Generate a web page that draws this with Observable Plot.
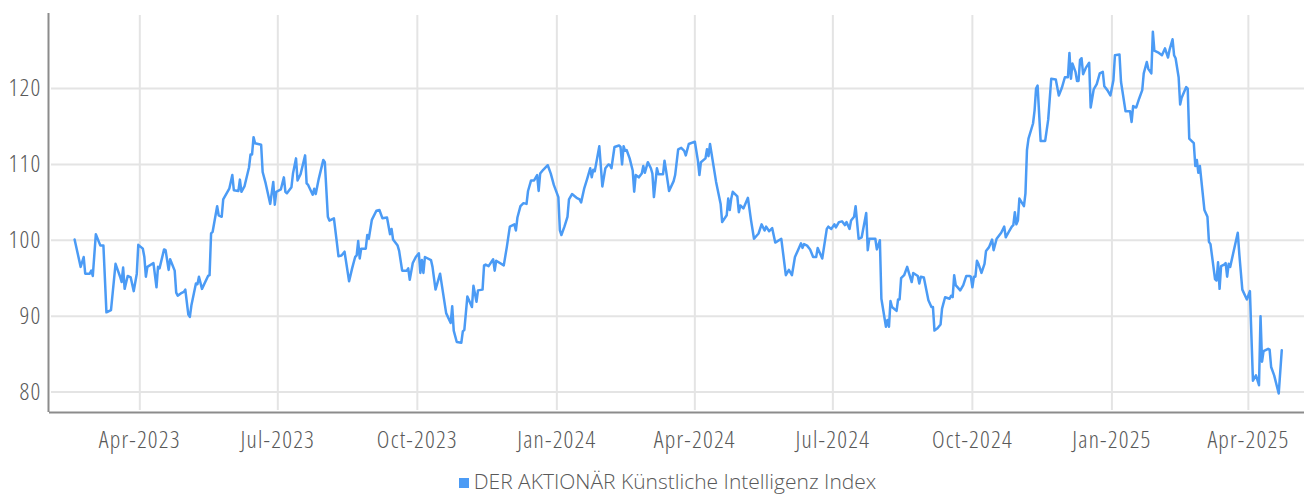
<!DOCTYPE html>
<html>
<head>
<meta charset="utf-8">
<script src="https://cdn.jsdelivr.net/npm/d3@7"></script>
<script src="https://cdn.jsdelivr.net/npm/@observablehq/plot@0.6"></script>
<style>
  html, body { margin: 0; padding: 0; background: #ffffff; overflow: hidden; }
  #chart { width: 1304px; height: 460px; }
  .legend { height: 35px; box-sizing: border-box; padding-top: 11.35px; padding-left: 31px; display: flex; justify-content: center; align-items: flex-start;
    font-family: "Open Sans", "DejaVu Sans Condensed", sans-serif; font-stretch: 100%; font-weight: 300; font-size: 21px;
    color: #595959; line-height: 21px; }
  .legend .lab { height: 21px; white-space: nowrap; }
  .sw { width: 10px; height: 10px; background: #4b9bf5; margin-right: 5px; margin-top: 7px; flex: none; }
</style>
</head>
<body>
<div id="chart"></div>
<div class="legend"><span class="sw"></span><span class="lab" id="legendLabel"></span></div>
<script>
const seriesName = "DER AKTIONÄR Künstliche Intelligenz Index";
const yTicks = [80, 90, 100, 110, 120];
const xTickDates = ["2023-04-01","2023-07-01","2023-10-01","2024-01-01","2024-04-01","2024-07-01","2024-10-01","2025-01-01","2025-04-01"];

const dates = [
"2023-02-17","2023-02-21","2023-02-23","2023-02-24","2023-02-27","2023-02-28","2023-03-01","2023-03-03","2023-03-06","2023-03-08",
"2023-03-10","2023-03-13","2023-03-16","2023-03-19","2023-03-20","2023-03-21","2023-03-22","2023-03-24","2023-03-26","2023-03-28",
"2023-03-30","2023-03-31","2023-04-03","2023-04-04","2023-04-05","2023-04-06","2023-04-10","2023-04-12","2023-04-13","2023-04-14",
"2023-04-17","2023-04-18","2023-04-20","2023-04-21","2023-04-24","2023-04-25","2023-04-26","2023-04-28","2023-04-30","2023-05-01",
"2023-05-03","2023-05-04","2023-05-05","2023-05-08","2023-05-09","2023-05-10","2023-05-12","2023-05-16","2023-05-17","2023-05-18",
"2023-05-19","2023-05-22","2023-05-23","2023-05-25","2023-05-26","2023-05-30","2023-06-01","2023-06-02","2023-06-05","2023-06-06",
"2023-06-07","2023-06-09","2023-06-12","2023-06-13","2023-06-14","2023-06-15","2023-06-16","2023-06-20","2023-06-21","2023-06-23",
"2023-06-26","2023-06-28","2023-06-29","2023-06-30","2023-07-03","2023-07-05","2023-07-06","2023-07-07","2023-07-10","2023-07-11",
"2023-07-13","2023-07-14","2023-07-16","2023-07-19","2023-07-20","2023-07-21","2023-07-24","2023-07-25","2023-07-26","2023-07-28",
"2023-07-31","2023-08-01","2023-08-03","2023-08-04","2023-08-07","2023-08-09","2023-08-10","2023-08-12","2023-08-14","2023-08-17",
"2023-08-19","2023-08-21","2023-08-22","2023-08-23","2023-08-24","2023-08-25","2023-08-28","2023-08-29","2023-08-30","2023-09-01",
"2023-09-04","2023-09-06","2023-09-08","2023-09-11","2023-09-13","2023-09-14","2023-09-15","2023-09-18","2023-09-19","2023-09-21",
"2023-09-24","2023-09-25","2023-09-26","2023-09-28","2023-09-30","2023-10-02","2023-10-03","2023-10-04","2023-10-05","2023-10-06",
"2023-10-10","2023-10-11","2023-10-13","2023-10-16","2023-10-18","2023-10-20","2023-10-23","2023-10-24","2023-10-25","2023-10-27",
"2023-10-30","2023-10-31","2023-11-01","2023-11-03","2023-11-06","2023-11-07","2023-11-09","2023-11-10","2023-11-13","2023-11-14",
"2023-11-15","2023-11-17","2023-11-20","2023-11-21","2023-11-22","2023-11-27","2023-11-29","2023-12-01","2023-12-04","2023-12-05",
"2023-12-06","2023-12-08","2023-12-10","2023-12-12","2023-12-13","2023-12-15","2023-12-17","2023-12-19","2023-12-20","2023-12-21",
"2023-12-23","2023-12-26","2023-12-28","2023-12-30","2024-01-02","2024-01-03","2024-01-04","2024-01-06","2024-01-08","2024-01-09",
"2024-01-11","2024-01-14","2024-01-16","2024-01-17","2024-01-19","2024-01-21","2024-01-23","2024-01-24","2024-01-25","2024-01-26",
"2024-01-29","2024-01-31","2024-02-02","2024-02-04","2024-02-05","2024-02-06","2024-02-08","2024-02-11","2024-02-12","2024-02-13",
"2024-02-14","2024-02-15","2024-02-16","2024-02-18","2024-02-20","2024-02-21","2024-02-22","2024-02-24","2024-02-26","2024-02-27",
"2024-02-28","2024-03-01","2024-03-03","2024-03-04","2024-03-05","2024-03-07","2024-03-08","2024-03-11","2024-03-12","2024-03-13",
"2024-03-15","2024-03-18","2024-03-19","2024-03-21","2024-03-23","2024-03-25","2024-03-26","2024-03-28","2024-04-01","2024-04-03",
"2024-04-04","2024-04-05","2024-04-08","2024-04-09","2024-04-10","2024-04-11","2024-04-15","2024-04-18","2024-04-19","2024-04-22",
"2024-04-23","2024-04-24","2024-04-25","2024-04-26","2024-04-29","2024-04-30","2024-05-01","2024-05-03","2024-05-06","2024-05-08",
"2024-05-10","2024-05-13","2024-05-15","2024-05-17","2024-05-18","2024-05-20","2024-05-22","2024-05-24","2024-05-28","2024-05-31",
"2024-06-02","2024-06-04","2024-06-06","2024-06-08","2024-06-10","2024-06-11","2024-06-12","2024-06-14","2024-06-16","2024-06-18",
"2024-06-20","2024-06-21","2024-06-24","2024-06-27","2024-06-28","2024-06-30","2024-07-02","2024-07-03","2024-07-05","2024-07-07",
"2024-07-09","2024-07-10","2024-07-12","2024-07-13","2024-07-15","2024-07-16","2024-07-18","2024-07-20","2024-07-23","2024-07-24",
"2024-07-25","2024-07-29","2024-07-30","2024-08-01","2024-08-02","2024-08-05","2024-08-06","2024-08-07","2024-08-08","2024-08-09",
"2024-08-12","2024-08-13","2024-08-14","2024-08-15","2024-08-17","2024-08-19","2024-08-20","2024-08-22","2024-08-23","2024-08-26",
"2024-08-27","2024-08-28","2024-08-30","2024-09-02","2024-09-04","2024-09-05","2024-09-06","2024-09-08","2024-09-10","2024-09-11",
"2024-09-13","2024-09-16","2024-09-17","2024-09-18","2024-09-19","2024-09-20","2024-09-23","2024-09-25","2024-09-27","2024-09-29",
"2024-09-30","2024-10-01","2024-10-02","2024-10-03","2024-10-04","2024-10-05","2024-10-07","2024-10-09","2024-10-10","2024-10-12",
"2024-10-14","2024-10-15","2024-10-17","2024-10-20","2024-10-22","2024-10-23","2024-10-25","2024-10-27","2024-10-28","2024-10-29",
"2024-10-30","2024-10-31","2024-11-01","2024-11-04","2024-11-05","2024-11-06","2024-11-07","2024-11-10","2024-11-11","2024-11-12",
"2024-11-13","2024-11-15","2024-11-18","2024-11-20","2024-11-22","2024-11-25","2024-11-27","2024-11-29","2024-12-01","2024-12-03",
"2024-12-04","2024-12-05","2024-12-06","2024-12-08","2024-12-09","2024-12-10","2024-12-11","2024-12-12","2024-12-13","2024-12-15",
"2024-12-17","2024-12-18","2024-12-20","2024-12-22","2024-12-24","2024-12-26","2024-12-27","2024-12-29","2024-12-31","2025-01-02",
"2025-01-03","2025-01-06","2025-01-07","2025-01-10","2025-01-13","2025-01-14","2025-01-15","2025-01-17","2025-01-19","2025-01-21",
"2025-01-22","2025-01-24","2025-01-25","2025-01-27","2025-01-28","2025-01-29","2025-02-01","2025-02-03","2025-02-05","2025-02-07",
"2025-02-08","2025-02-10","2025-02-11","2025-02-12","2025-02-14","2025-02-15","2025-02-16","2025-02-19","2025-02-20","2025-02-21",
"2025-02-24","2025-02-25","2025-02-26","2025-02-27","2025-02-28","2025-03-03","2025-03-05","2025-03-06","2025-03-07","2025-03-10",
"2025-03-11","2025-03-12","2025-03-13","2025-03-14","2025-03-16","2025-03-17","2025-03-18","2025-03-19","2025-03-20","2025-03-25",
"2025-03-26","2025-03-28","2025-03-31","2025-04-02","2025-04-04","2025-04-06","2025-04-08","2025-04-09","2025-04-10","2025-04-11",
"2025-04-14","2025-04-15","2025-04-16","2025-04-18","2025-04-21","2025-04-23"
];

const values = [
100.1,96.5,97.8,95.6,95.6,96.0,95.3,100.8,99.3,99.3,
90.5,90.8,96.9,95.2,94.5,96.4,93.6,95.3,95.1,93.3,
95.6,99.4,98.9,97.8,95.2,96.5,97.0,93.8,96.5,96.3,
98.8,98.7,96.1,97.5,96.0,93.1,92.7,93.0,93.2,93.5,
90.2,89.9,91.4,94.3,94.2,95.2,93.6,95.3,95.4,100.9,
101.1,104.5,103.3,103.1,105.4,106.8,108.6,106.6,106.5,108.0,
106.4,107.1,109.6,111.3,111.3,113.6,112.8,112.6,109.0,107.5,
104.8,107.7,104.7,106.4,106.7,108.3,106.4,106.2,107.0,108.8,
110.8,107.9,108.7,111.2,107.5,107.3,106.0,106.8,106.1,108.1,
110.6,110.3,103.1,102.6,102.9,99.6,97.9,98.0,98.5,94.6,
96.3,97.8,98.0,99.9,97.6,98.9,98.9,100.7,100.2,102.7,
103.9,104.0,102.9,103.0,100.8,101.5,100.1,99.3,98.6,96.0,
96.0,96.3,94.8,97.0,97.8,98.3,95.7,97.4,95.7,97.8,
97.4,96.5,93.5,95.6,93.0,90.4,89.1,91.3,88.1,86.6,
86.5,88.0,88.2,92.6,91.2,94.0,91.9,93.4,93.5,96.7,
96.8,96.6,97.5,96.0,97.3,96.7,99.1,101.8,102.1,101.3,
103.0,104.5,104.9,104.8,106.5,107.9,107.9,108.6,106.5,108.8,
109.3,109.9,108.8,107.3,105.7,101.3,100.7,101.8,103.1,105.4,
106.1,105.6,105.4,105.0,106.8,108.1,109.5,108.3,109.3,109.1,
112.4,107.1,109.5,110.0,109.9,109.5,112.3,112.5,112.3,110.0,
112.4,111.8,111.9,110.8,109.2,106.4,108.6,108.3,108.8,109.8,
108.9,110.3,109.5,108.8,105.7,109.5,108.7,108.7,110.5,109.2,
106.5,107.8,108.6,112.0,112.2,111.8,111.2,112.7,113.0,110.5,
108.6,110.3,110.8,112.0,111.1,112.7,107.7,104.8,102.4,103.3,
105.5,104.0,105.5,106.4,105.8,103.7,104.6,104.2,105.6,102.7,
100.2,100.9,102.1,101.3,101.8,101.2,101.6,99.7,100.2,95.4,
96.1,95.4,97.8,98.7,99.6,99.0,99.5,99.3,98.8,97.8,
97.8,99.0,97.6,101.5,101.8,101.5,102.1,101.7,102.4,102.5,
102.0,102.4,101.5,102.6,103.1,104.5,100.2,100.4,103.6,98.7,
100.2,100.2,98.8,100.0,92.3,88.6,89.5,88.6,92.0,91.2,
90.7,92.2,92.2,95.0,95.4,96.5,95.8,94.5,95.7,95.3,
94.3,95.2,95.1,92.1,91.2,91.2,88.1,88.4,88.9,91.0,
92.5,92.3,92.7,92.5,95.4,94.1,93.4,94.1,95.3,95.3,
95.2,93.8,95.2,95.2,97.3,96.9,95.7,96.9,98.6,99.1,
100.1,98.7,100.2,101.0,101.8,100.4,101.1,101.8,102.0,103.7,
102.1,102.6,105.5,104.5,106.2,111.9,113.4,115.4,117.1,120.0,
120.4,113.1,113.1,115.9,121.3,121.2,119.1,120.1,121.5,121.5,
124.7,121.3,123.3,122.2,121.0,121.0,123.8,124.0,121.9,122.8,
123.4,117.5,119.9,120.6,122.0,122.2,120.3,119.8,119.1,121.1,
124.4,124.5,120.9,117.0,117.0,115.6,117.7,117.5,118.7,119.8,
122.0,123.5,122.6,122.0,127.5,125.0,124.7,124.4,125.3,124.1,
125.1,126.5,124.4,124.0,121.5,117.9,118.8,120.2,120.0,113.4,
112.8,109.8,110.6,108.9,109.8,104.0,103.1,99.8,99.5,94.9,
94.7,97.1,93.6,96.6,96.8,97.0,95.2,96.9,96.5,101.0,
98.2,93.5,92.2,93.3,81.5,82.2,80.9,90.0,84.0,85.4,
85.7,85.6,83.3,82.2,79.8,85.5
];

const parse = d3.utcParse("%Y-%m-%d");
const data = dates.map((d, i) => ({ date: parse(d), value: values[i] }));
const xTicks = xTickDates.map(parse);
const xDomain = [new Date(Date.UTC(2023, 0, 30, 19)), new Date(Date.UTC(2025, 4, 8))];
const yDomain = [77.3, 129.9];

const fontStack = '"Open Sans", "DejaVu Sans Condensed", sans-serif';

const chart = Plot.plot({
  width: 1304,
  height: 460,
  marginLeft: 48,
  marginRight: 0,
  marginTop: 13,
  marginBottom: 48,
  style: { fontFamily: fontStack, fontSize: "24px", fontWeight: 300, fontStretch: "75%", letterSpacing: "1.2px", color: "#595959", background: "#ffffff", overflow: "visible" },
  x: { type: "utc", domain: xDomain },
  y: { domain: yDomain },
  marks: [
    Plot.gridY(yTicks, { stroke: "#e4e4e4", strokeOpacity: 1, strokeWidth: 2, insetLeft: 3 }),
    Plot.gridX(xTicks, { stroke: "#e4e4e4", strokeOpacity: 1, strokeWidth: 2, insetTop: 2, insetBottom: 2 }),
    Plot.ruleX([xDomain[0]], { stroke: "#8c8c8c", strokeWidth: 2 }),
    Plot.ruleY([yDomain[0]], { stroke: "#8c8c8c", strokeWidth: 2, insetLeft: 1 }),
    Plot.axisY(yTicks, { tickSize: 0, tickPadding: 7, label: null }),
    Plot.axisX(xTicks, { tickSize: 0, tickPadding: 18, label: null, tickFormat: d3.utcFormat("%b-%Y") }),
    Plot.lineY(data, { x: "date", y: "value", stroke: "#4b9bf5", strokeWidth: 2.5, strokeLinejoin: "round" })
  ]
});
document.getElementById("chart").appendChild(chart);
document.getElementById("legendLabel").textContent = seriesName;
</script>
</body>
</html>
